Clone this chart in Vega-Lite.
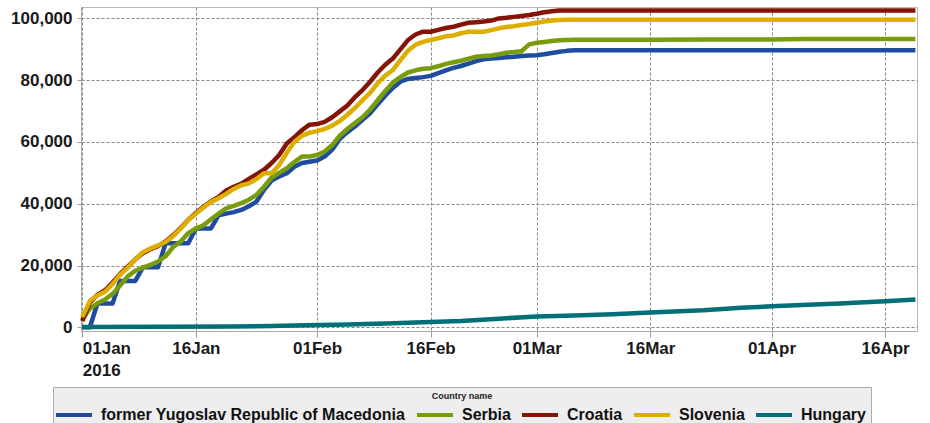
{
  "$schema": "https://vega.github.io/schema/vega-lite/v6.json",
  "width": 836,
  "height": 324,
  "autosize": {"type": "none"},
  "padding": {"left": 81, "top": 7, "right": 13, "bottom": 92},
  "background": "white",
  "config": {"view": {"stroke": "#b8b8b8", "strokeWidth": 1}, "font": "Liberation Sans"},
  "data": {"values": [
    {"d":"2016-01-01","former Yugoslav Republic of Macedonia":0,"Serbia":2500,"Croatia":2000,"Slovenia":3300,"Hungary":100},
    {"d":"2016-01-02","former Yugoslav Republic of Macedonia":0,"Serbia":6000,"Croatia":8000,"Slovenia":8500},
    {"d":"2016-01-03","former Yugoslav Republic of Macedonia":7700,"Serbia":7800,"Croatia":10500,"Slovenia":10300},
    {"d":"2016-01-04","former Yugoslav Republic of Macedonia":7700,"Serbia":9000,"Croatia":12000,"Slovenia":11500},
    {"d":"2016-01-05","former Yugoslav Republic of Macedonia":7700,"Serbia":10800,"Croatia":14500,"Slovenia":14000},
    {"d":"2016-01-06","former Yugoslav Republic of Macedonia":15000,"Serbia":13500,"Croatia":17300,"Slovenia":17000},
    {"d":"2016-01-07","former Yugoslav Republic of Macedonia":15000,"Serbia":16500,"Croatia":19600,"Slovenia":19300},
    {"d":"2016-01-08","former Yugoslav Republic of Macedonia":15000,"Serbia":18300,"Croatia":22000,"Slovenia":22000},
    {"d":"2016-01-09","former Yugoslav Republic of Macedonia":19400,"Serbia":19300,"Croatia":24000,"Slovenia":24300},
    {"d":"2016-01-10","former Yugoslav Republic of Macedonia":19400,"Serbia":20200,"Croatia":25300,"Slovenia":25500},
    {"d":"2016-01-11","former Yugoslav Republic of Macedonia":19400,"Serbia":21300,"Croatia":26300,"Slovenia":26500,"Hungary":150},
    {"d":"2016-01-12","former Yugoslav Republic of Macedonia":27200,"Serbia":23000,"Croatia":27800,"Slovenia":27600},
    {"d":"2016-01-13","former Yugoslav Republic of Macedonia":27200,"Serbia":26000,"Croatia":29800,"Slovenia":29500},
    {"d":"2016-01-14","former Yugoslav Republic of Macedonia":27200,"Serbia":27800,"Croatia":32200,"Slovenia":32000},
    {"d":"2016-01-15","former Yugoslav Republic of Macedonia":27200,"Serbia":30500,"Croatia":34800,"Slovenia":34700},
    {"d":"2016-01-16","former Yugoslav Republic of Macedonia":32000,"Serbia":32000,"Croatia":37000,"Slovenia":36800},
    {"d":"2016-01-17","former Yugoslav Republic of Macedonia":32000,"Serbia":33000,"Croatia":39000,"Slovenia":38800},
    {"d":"2016-01-18","former Yugoslav Republic of Macedonia":32000,"Serbia":35000,"Croatia":40800,"Slovenia":40600},
    {"d":"2016-01-19","former Yugoslav Republic of Macedonia":36300,"Serbia":36800,"Croatia":42200,"Slovenia":41800},
    {"d":"2016-01-20","former Yugoslav Republic of Macedonia":36800,"Serbia":38500,"Croatia":44300,"Slovenia":43200},
    {"d":"2016-01-21","former Yugoslav Republic of Macedonia":37300,"Serbia":39300,"Croatia":45500,"Slovenia":44800,"Hungary":250},
    {"d":"2016-01-22","former Yugoslav Republic of Macedonia":38000,"Serbia":40200,"Croatia":46500,"Slovenia":46000},
    {"d":"2016-01-23","former Yugoslav Republic of Macedonia":39200,"Serbia":41300,"Croatia":48000,"Slovenia":46600},
    {"d":"2016-01-24","former Yugoslav Republic of Macedonia":40700,"Serbia":42900,"Croatia":49500,"Slovenia":48000},
    {"d":"2016-01-25","former Yugoslav Republic of Macedonia":44500,"Serbia":45500,"Croatia":51000,"Slovenia":49900},
    {"d":"2016-01-26","former Yugoslav Republic of Macedonia":47500,"Serbia":48500,"Croatia":53200,"Slovenia":49900,"Hungary":400},
    {"d":"2016-01-27","former Yugoslav Republic of Macedonia":48800,"Serbia":50000,"Croatia":55800,"Slovenia":52500},
    {"d":"2016-01-28","former Yugoslav Republic of Macedonia":49900,"Serbia":51500,"Croatia":59500,"Slovenia":56500},
    {"d":"2016-01-29","former Yugoslav Republic of Macedonia":52000,"Serbia":53500,"Croatia":61500,"Slovenia":60000,"Hungary":600},
    {"d":"2016-01-30","former Yugoslav Republic of Macedonia":53200,"Serbia":55300,"Croatia":63800,"Slovenia":62000},
    {"d":"2016-01-31","former Yugoslav Republic of Macedonia":53600,"Serbia":55300,"Croatia":65600,"Slovenia":63000},
    {"d":"2016-02-01","former Yugoslav Republic of Macedonia":54000,"Serbia":55800,"Croatia":65800,"Slovenia":63500},
    {"d":"2016-02-02","former Yugoslav Republic of Macedonia":55300,"Serbia":56900,"Croatia":66500,"Slovenia":64200},
    {"d":"2016-02-03","former Yugoslav Republic of Macedonia":57500,"Serbia":59000,"Croatia":68000,"Slovenia":65300},
    {"d":"2016-02-04","former Yugoslav Republic of Macedonia":61000,"Serbia":62000,"Croatia":69900,"Slovenia":66800},
    {"d":"2016-02-05","former Yugoslav Republic of Macedonia":63200,"Serbia":64200,"Croatia":71800,"Slovenia":68800,"Hungary":900},
    {"d":"2016-02-06","former Yugoslav Republic of Macedonia":65000,"Serbia":66100,"Croatia":74500,"Slovenia":71000},
    {"d":"2016-02-07","former Yugoslav Republic of Macedonia":67200,"Serbia":68000,"Croatia":76800,"Slovenia":73500},
    {"d":"2016-02-08","former Yugoslav Republic of Macedonia":69300,"Serbia":70500,"Croatia":79500,"Slovenia":75900},
    {"d":"2016-02-09","former Yugoslav Republic of Macedonia":72200,"Serbia":73500,"Croatia":82500,"Slovenia":79000},
    {"d":"2016-02-10","former Yugoslav Republic of Macedonia":75000,"Serbia":76500,"Croatia":85000,"Slovenia":81500,"Hungary":1200},
    {"d":"2016-02-11","former Yugoslav Republic of Macedonia":77500,"Serbia":79200,"Croatia":87000,"Slovenia":83300},
    {"d":"2016-02-12","former Yugoslav Republic of Macedonia":79500,"Serbia":81000,"Croatia":90000,"Slovenia":86500},
    {"d":"2016-02-13","former Yugoslav Republic of Macedonia":80400,"Serbia":82500,"Croatia":93000,"Slovenia":89500},
    {"d":"2016-02-14","former Yugoslav Republic of Macedonia":80700,"Serbia":83200,"Croatia":94800,"Slovenia":91500},
    {"d":"2016-02-15","former Yugoslav Republic of Macedonia":81000,"Serbia":83700,"Croatia":95700,"Slovenia":92400},
    {"d":"2016-02-16","former Yugoslav Republic of Macedonia":81400,"Serbia":83900,"Croatia":95700,"Slovenia":93000,"Hungary":1700},
    {"d":"2016-02-17","former Yugoslav Republic of Macedonia":82300,"Serbia":84500,"Croatia":96300,"Slovenia":93600},
    {"d":"2016-02-18","former Yugoslav Republic of Macedonia":83200,"Serbia":85300,"Croatia":96900,"Slovenia":94200},
    {"d":"2016-02-19","former Yugoslav Republic of Macedonia":84000,"Serbia":85800,"Croatia":97300,"Slovenia":94500},
    {"d":"2016-02-20","former Yugoslav Republic of Macedonia":84600,"Serbia":86300,"Croatia":98000,"Slovenia":95200,"Hungary":2000},
    {"d":"2016-02-21","former Yugoslav Republic of Macedonia":85400,"Serbia":87000,"Croatia":98600,"Slovenia":95700},
    {"d":"2016-02-22","former Yugoslav Republic of Macedonia":86200,"Serbia":87600,"Croatia":98800,"Slovenia":95700},
    {"d":"2016-02-23","former Yugoslav Republic of Macedonia":86800,"Serbia":87800,"Croatia":99000,"Slovenia":95700},
    {"d":"2016-02-24","former Yugoslav Republic of Macedonia":87000,"Serbia":88000,"Croatia":99300,"Slovenia":96200},
    {"d":"2016-02-25","former Yugoslav Republic of Macedonia":87200,"Serbia":88400,"Croatia":100000,"Slovenia":96800,"Hungary":2800},
    {"d":"2016-02-26","former Yugoslav Republic of Macedonia":87400,"Serbia":88900,"Croatia":100200,"Slovenia":97200},
    {"d":"2016-02-27","former Yugoslav Republic of Macedonia":87600,"Serbia":89100,"Croatia":100500,"Slovenia":97500},
    {"d":"2016-02-28","former Yugoslav Republic of Macedonia":87800,"Serbia":89400,"Croatia":100800,"Slovenia":97900},
    {"d":"2016-02-29","former Yugoslav Republic of Macedonia":88000,"Serbia":91600,"Croatia":101100,"Slovenia":98200},
    {"d":"2016-03-01","former Yugoslav Republic of Macedonia":88100,"Serbia":92100,"Croatia":101500,"Slovenia":98600,"Hungary":3500},
    {"d":"2016-03-02","former Yugoslav Republic of Macedonia":88400,"Serbia":92400,"Croatia":102000,"Slovenia":99000},
    {"d":"2016-03-03","former Yugoslav Republic of Macedonia":88800,"Serbia":92700,"Croatia":102300,"Slovenia":99300},
    {"d":"2016-03-04","former Yugoslav Republic of Macedonia":89200,"Serbia":92900,"Croatia":102600,"Slovenia":99500},
    {"d":"2016-03-05","former Yugoslav Republic of Macedonia":89500,"Serbia":93000,"Croatia":102600,"Slovenia":99600},
    {"d":"2016-03-06","former Yugoslav Republic of Macedonia":89700,"Serbia":93100,"Croatia":102600,"Slovenia":99600,"Hungary":3800},
    {"d":"2016-03-11","former Yugoslav Republic of Macedonia":89700,"Serbia":93100,"Croatia":102600,"Slovenia":99600,"Hungary":4200},
    {"d":"2016-03-16","former Yugoslav Republic of Macedonia":89700,"Serbia":93100,"Croatia":102600,"Slovenia":99600,"Hungary":4800},
    {"d":"2016-03-23","former Yugoslav Republic of Macedonia":89700,"Serbia":93200,"Croatia":102600,"Slovenia":99600,"Hungary":5500},
    {"d":"2016-03-28","former Yugoslav Republic of Macedonia":89700,"Serbia":93200,"Croatia":102600,"Slovenia":99600,"Hungary":6300},
    {"d":"2016-04-01","former Yugoslav Republic of Macedonia":89700,"Serbia":93200,"Croatia":102600,"Slovenia":99600,"Hungary":6800},
    {"d":"2016-04-05","former Yugoslav Republic of Macedonia":89700,"Serbia":93300,"Croatia":102600,"Slovenia":99600,"Hungary":7200},
    {"d":"2016-04-10","former Yugoslav Republic of Macedonia":89700,"Serbia":93300,"Croatia":102600,"Slovenia":99600,"Hungary":7700},
    {"d":"2016-04-16","former Yugoslav Republic of Macedonia":89700,"Serbia":93300,"Croatia":102600,"Slovenia":99600,"Hungary":8400},
    {"d":"2016-04-20","former Yugoslav Republic of Macedonia":89700,"Serbia":93300,"Croatia":102600,"Slovenia":99600,"Hungary":9000}
  ]},
  "transform": [
    {"fold": ["former Yugoslav Republic of Macedonia", "Serbia", "Croatia", "Slovenia", "Hungary"], "as": ["country", "value"]},
    {"filter": "isValid(datum.value)"}
  ],
  "mark": {"type": "line", "strokeWidth": 4.5, "strokeJoin": "round", "strokeCap": "butt"},
  "encoding": {
    "x": {
      "field": "d", "type": "temporal",
      "scale": {"type": "utc", "nice": false, "domain": [
        {"year": 2015, "month": 12, "date": 31, "hours": 20, "utc": true},
        {"year": 2016, "month": 4, "date": 20, "hours": 5, "utc": true}
      ]},
      "axis": {
        "title": null,
        "values": [
          {"year": 2016, "month": 1, "date": 1, "utc": true},
          {"year": 2016, "month": 1, "date": 16, "utc": true},
          {"year": 2016, "month": 2, "date": 1, "utc": true},
          {"year": 2016, "month": 2, "date": 16, "utc": true},
          {"year": 2016, "month": 3, "date": 1, "utc": true},
          {"year": 2016, "month": 3, "date": 16, "utc": true},
          {"year": 2016, "month": 4, "date": 1, "utc": true},
          {"year": 2016, "month": 4, "date": 16, "utc": true}
        ],
        "labelExpr": "(utcmonth(datum.value) == 0 && utcdate(datum.value) == 1) ? [utcFormat(datum.value, '%d%b'), '2016'] : utcFormat(datum.value, '%d%b')",
        "labelFont": "Liberation Sans", "labelFontSize": 17, "labelFontWeight": "bold", "labelColor": "#1a1a1a",
        "labelLineHeight": 22, "labelPadding": 3, "labelFlush": 3, "labelFlushOffset": 0, "labelOverlap": false,
        "tickSize": 6, "tickColor": "#999999", "domainColor": "#aaaaaa",
        "grid": true, "gridColor": "#888888", "gridDash": [3, 2], "gridWidth": 1
      }
    },
    "y": {
      "field": "value", "type": "quantitative",
      "scale": {"domain": [-1200, 103700], "nice": false, "zero": false},
      "axis": {
        "title": null,
        "values": [0, 20000, 40000, 60000, 80000, 100000],
        "format": ",d",
        "labelFont": "Liberation Sans", "labelFontSize": 17, "labelFontWeight": "bold", "labelColor": "#1a1a1a",
        "labelPadding": 5, "tickSize": 4, "tickColor": "#999999", "domainColor": "#aaaaaa",
        "grid": true, "gridColor": "#888888", "gridDash": [3, 2], "gridWidth": 1
      }
    },
    "color": {
      "field": "country", "type": "nominal",
      "scale": {
        "domain": ["former Yugoslav Republic of Macedonia", "Serbia", "Croatia", "Slovenia", "Hungary"],
        "range": ["#1f4c9c", "#789c0c", "#841405", "#ddae00", "#006f78"]
      },
      "legend": {
        "title": "Country name", "orient": "none", "legendX": -28, "legendY": 380,
        "direction": "horizontal", "titleAnchor": "middle", "titleOrient": "top",
        "titleFont": "Liberation Sans", "titleFontSize": 9, "titleFontWeight": "bold", "titleColor": "#222222", "titlePadding": 6,
        "labelFont": "Liberation Sans", "labelFontSize": 16, "labelFontWeight": "bold", "labelColor": "#111111", "labelLimit": 400,
        "symbolType": "M-3,0H3", "symbolSize": 144, "symbolStrokeWidth": 4, "symbolOffset": 8, "labelOffset": 19, "columnPadding": 3,
        "fillColor": "#eeeeee", "strokeColor": "#aaaaaa", "padding": 5
      }
    }
  }
}
